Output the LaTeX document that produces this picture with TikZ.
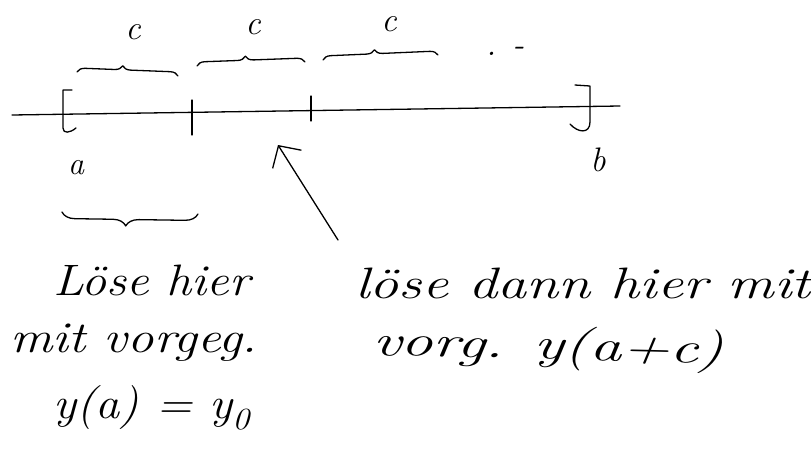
\documentclass[tikz,border=0pt]{standalone}
\usetikzlibrary{decorations.pathreplacing,arrows.meta}
\begin{document}
\begin{tikzpicture}[x=1pt,y=-1pt,
  pen/.style={line width=1.3pt,line cap=round,line join=round},
  hand/.style={font=\fontsize{44}{48}\selectfont\itshape,inner sep=0pt,anchor=base west},
  lbl/.style={font=\fontsize{34}{38}\selectfont\itshape,inner sep=0pt},
  topbrace/.style={pen,decorate,decoration={brace,amplitude=8pt,aspect=0.45}},
  botbrace/.style={pen,decorate,decoration={brace,mirror,amplitude=13pt,aspect=0.47}}]
\useasboundingbox (0,0) rectangle (811,450);
% axis
\coordinate (L) at (12,115);
\coordinate (R) at (620,106);
\draw[pen] (L) -- (R);
% left bracket
\draw[pen] (72,90) -- (63,90) -- (63,128) .. controls (63,134) and (70,133) .. (76,128);
% ticks
\coordinate (t1a) at (192,100); \coordinate (t1b) at (192,135);
\coordinate (t2a) at (311,96); \coordinate (t2b) at (311,121);
\draw[pen] (t1a) -- (t1b);
\draw[pen] (t2a) -- (t2b);
% right bracket
\draw[pen] (575,85) -- (590,86) -- (590,122) .. controls (590,134) and (578,133) .. (570,124);
% labels a, b
\node[lbl,font=\fontsize{32}{36}\selectfont\itshape] (la) at (76,168) {a};
\node[lbl] (lb) at (598,160) {b};
% top braces
\coordinate (b1a) at (77,72); \coordinate (b1b) at (178,76);
\coordinate (b2a) at (197,66); \coordinate (b2b) at (305,62);
\coordinate (b3a) at (323,60); \coordinate (b3b) at (438,55);
\draw[topbrace] (b1a) -- (b1b);
\draw[topbrace] (b2a) -- (b2b);
\draw[topbrace] (b3a) -- (b3b);
\node[lbl] (c1) at (133,32) {c};
\node[lbl] (c2) at (253,27) {c};
\node[lbl] (c3) at (389,24) {c};
\node[lbl,anchor=base west] (dots) at (486,55) {. -};
% bottom brace
\coordinate (bba) at (62,212); \coordinate (bbb) at (198,214);
\draw[botbrace] (bba) -- (bbb);
% texts
\node[hand,xscale=1.14] (t1) at (53,295) {Löse hier};
\node[hand,xscale=1.32] (t4) at (355,298) {löse dann hier mit};
\node[hand,xscale=1.2] (t2) at (10,352) {mit vorgeg.};
\node[hand,xscale=1.45,rotate=-2] (t5) at (372,355) {vorg. y(a+c)};
\node[hand,xscale=1.1] (t3) at (53,418) {y(a) = y\textsubscript{0}};
% arrow
\coordinate (arrtail) at (338,240);
\coordinate (arrtip) at (278,145);
\draw[pen,-{Straight Barb[length=16pt,width=34pt]}] (arrtail) -- (arrtip);
\end{tikzpicture}
\end{document}
